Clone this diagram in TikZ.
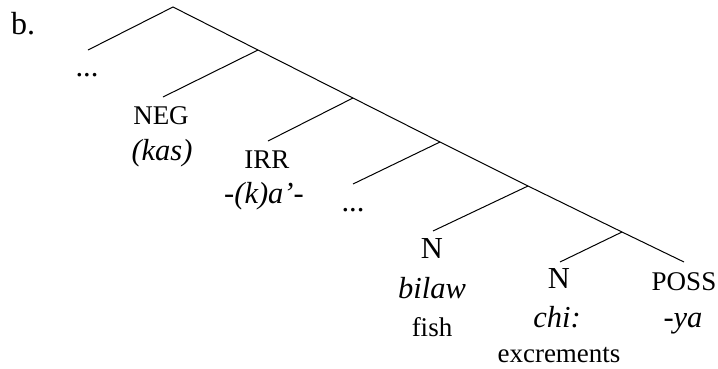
\documentclass[tikz,border=0pt]{standalone}
\usepackage{fontspec}
\setmainfont{Liberation Serif}
\begin{document}
\begin{tikzpicture}[x=1pt,y=-1pt,
  br/.style={line width=1pt},
  big/.style={inner sep=0pt,anchor=base,font=\fontsize{30.5}{34}\selectfont},
  sm/.style={inner sep=0pt,anchor=base,font=\fontsize{27}{30}\selectfont},
  lab/.style={inner sep=0pt,anchor=base west,font=\fontsize{32}{36}\selectfont}]
\useasboundingbox (0,0) rectangle (718,368);
% tree points
\coordinate (root) at (173,7);
\coordinate (l0) at (88,50);
\coordinate (s1) at (258,50);
\coordinate (l1) at (163,97);
\coordinate (s2) at (353,98);
\coordinate (l2) at (268,141);
\coordinate (s3) at (440,142);
\coordinate (l3) at (353,184);
\coordinate (s4) at (528,186);
\coordinate (l4) at (433,231);
\coordinate (s5) at (622,232);
\coordinate (l5) at (560,262);
\coordinate (l6) at (684,262);
% branches
\draw[br] (l0) -- (root) -- (s1) -- (s2) -- (s3) -- (s4) -- (s5) -- (l6);
\draw[br] (s1) -- (l1);
\draw[br] (s2) -- (l2);
\draw[br] (s3) -- (l3);
\draw[br] (s4) -- (l4);
\draw[br] (s5) -- (l5);
% labels
\node[lab] (b) at (11,34) {b.};
\node[big] (d1) at (87,76) {...};
\node[sm] (neg) at (161,124) {NEG};
\node[big] (kas) at (162,160) {\textit{(kas)}};
\node[sm] (irr) at (267,168) {IRR};
\node[big] (ka) at (264,203) {\textit{-(k)a’-}};
\node[big] (d2) at (353,211) {...};
\node[big] (n1) at (432,258) {N};
\node[big] (bilaw) at (432,298) {\textit{bilaw}};
\node[sm] (fish) at (432,336) {fish};
\node[big] (n2) at (559,288) {N};
\node[big] (chi) at (557,327) {\textit{chi:}};
\node[sm] (exc) at (559,362.5) {excrements};
\node[sm] (poss) at (684,290) {POSS};
\node[big] (ya) at (683,327) {\textit{-ya}};
\end{tikzpicture}
\end{document}
